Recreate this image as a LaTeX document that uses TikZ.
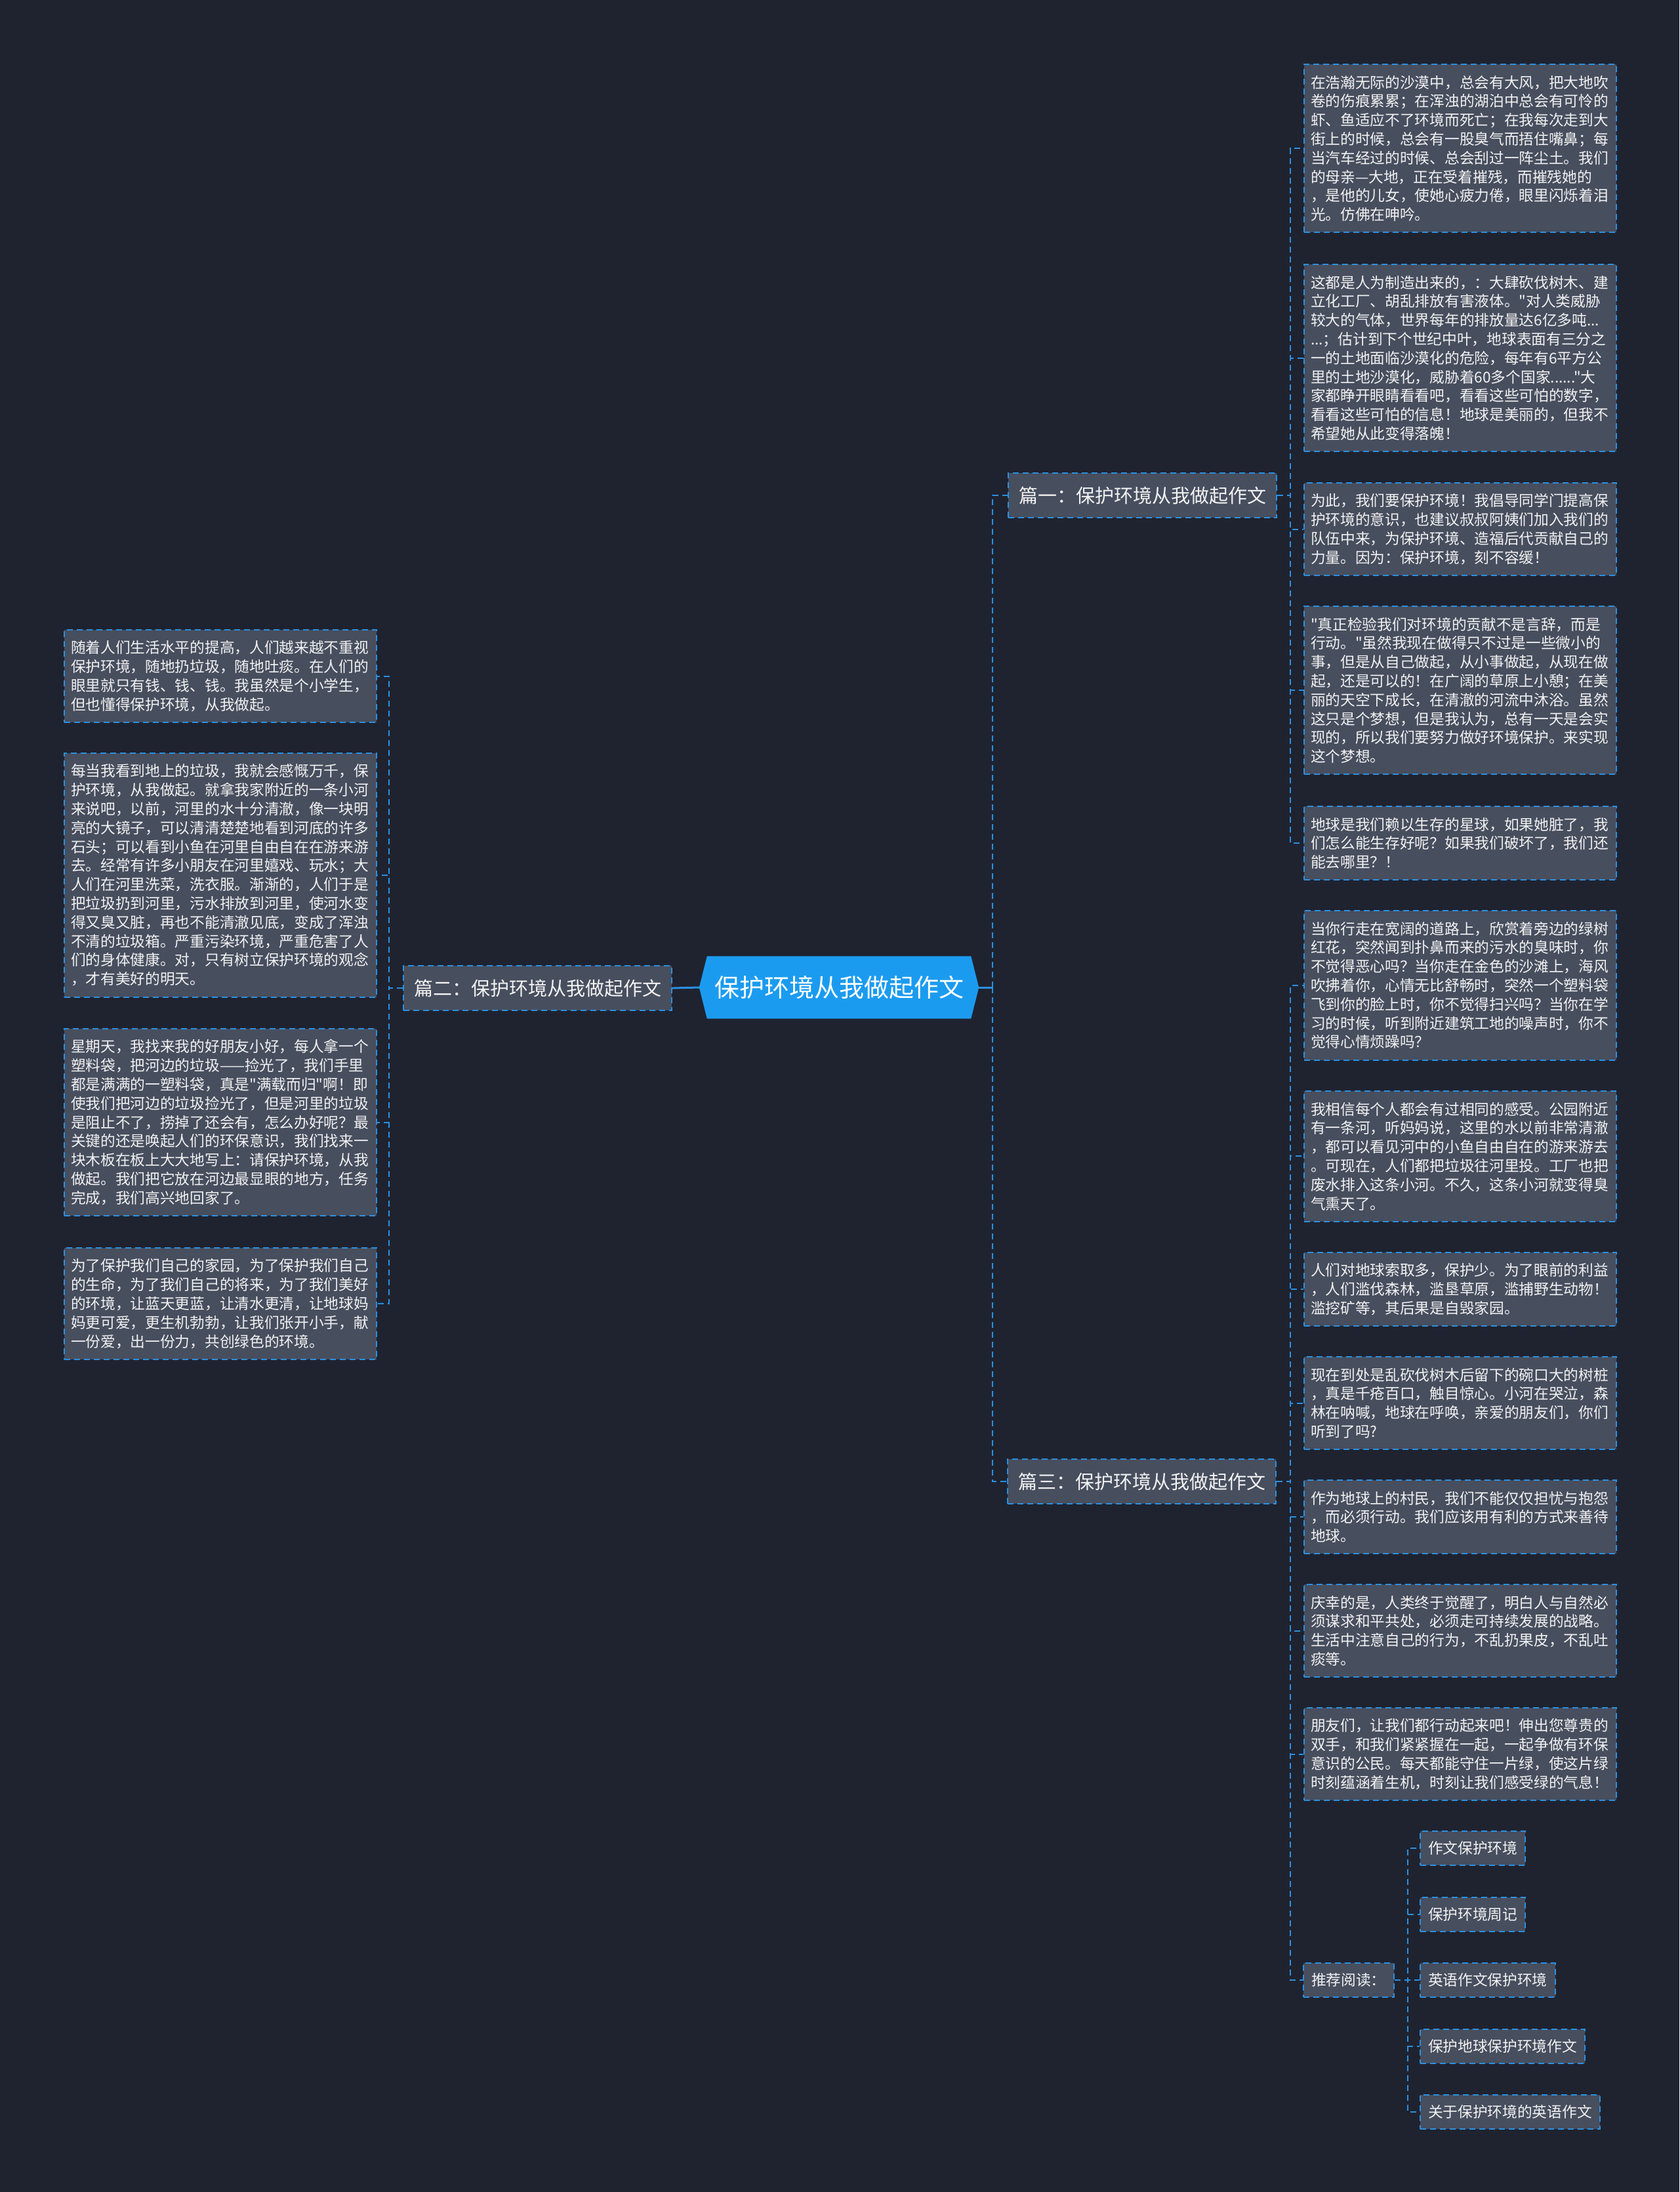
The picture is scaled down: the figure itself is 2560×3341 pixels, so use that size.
\documentclass[tikz,border=0pt]{standalone}
\usepackage{fontspec}
\newfontfamily\cjk{Noto Sans CJK SC}
\usetikzlibrary{backgrounds}
\definecolor{bg}{HTML}{1F2330}
\definecolor{boxf}{HTML}{474E5E}
\definecolor{lnc}{HTML}{2B90E0}
\definecolor{ctr}{HTML}{1B9BF0}
\definecolor{txtc}{HTML}{F2F2F2}
\begin{document}
\begin{tikzpicture}[x=1pt,y=-1pt,
  leaf/.style={draw=lnc, line width=2pt, dash pattern=on 9pt off 6pt, fill=boxf, text=txtc,
    font=\cjk\fontsize{22.7}{28.8}\selectfont, text width=456pt, align=left,
    inner xsep=10pt, inner ysep=0pt, anchor=north west},
  recbox/.style={draw=lnc, line width=2pt, dash pattern=on 9pt off 6pt, fill=boxf, text=txtc,
    font=\cjk\fontsize{22.7}{28.8}\selectfont, inner xsep=12pt, inner ysep=0pt,
    minimum height=52pt, anchor=north west},
  branch/.style={draw=lnc, line width=2pt, dash pattern=on 9pt off 6pt, fill=boxf, text=txtc,
    font=\cjk\fontsize{29}{34}\selectfont, inner xsep=16pt, inner ysep=0pt,
    minimum height=68pt, anchor=north west},
  link/.style={draw=lnc, line width=2pt, dash pattern=on 9pt off 6pt},
  mainlink/.style={draw=lnc, line width=3pt},
]
\begin{pgfonlayer}{background}
\fill[bg] (0,0) rectangle (2560,3341);
\end{pgfonlayer}
\useasboundingbox (0,0) rectangle (2560,3341);

% centre
\node[text=white, font=\cjk\fontsize{38}{44}\selectfont, minimum width=426pt, minimum height=95pt, inner sep=0pt] (c) at (1279,1505) {保护环境从我做起作文};
\begin{pgfonlayer}{background}
\fill[ctr] ([xshift=12pt]c.north west) -- ([xshift=-12pt]c.north east) -- (c.east) -- ([xshift=-12pt]c.south east) -- ([xshift=12pt]c.south west) -- (c.west) -- cycle;
\end{pgfonlayer}

% branches
\node[branch] (p1) at (1536,720) {篇一：保护环境从我做起作文};
\node[branch] (p2) at (614,1471) {篇二：保护环境从我做起作文};
\node[branch] (p3) at (1535,2223) {篇三：保护环境从我做起作文};

% right leaves, branch 1
\node[leaf, minimum height=256.4pt] (r1) at (1987,97) {在浩瀚无际的沙漠中，总会有大风，把大地吹\\卷的伤痕累累；在浑浊的湖泊中总会有可怜的\\虾、鱼适应不了环境而死亡；在我每次走到大\\街上的时候，总会有一股臭气而捂住嘴鼻；每\\当汽车经过的时候、总会刮过一阵尘土。我们\\的母亲—大地，正在受着摧残，而摧残她的\\，是他的儿女，使她心疲力倦，眼里闪烁着泪\\光。仿佛在呻吟。};
\node[leaf, minimum height=285.2pt] (r2) at (1987,402) {这都是人为制造出来的，：大肆砍伐树木、建\\立化工厂、胡乱排放有害液体。"对人类威胁\\较大的气体，世界每年的排放量达6亿多吨...\\...；估计到下个世纪中叶，地球表面有三分之\\一的土地面临沙漠化的危险，每年有6平方公\\里的土地沙漠化，威胁着60多个国家......"大\\家都睁开眼睛看看吧，看看这些可怕的数字，\\看看这些可怕的信息！地球是美丽的，但我不\\希望她从此变得落魄！};
\node[leaf, minimum height=141.2pt] (r3) at (1987,735) {为此，我们要保护环境！我倡导同学门提高保\\护环境的意识，也建议叔叔阿姨们加入我们的\\队伍中来，为保护环境、造福后代贡献自己的\\力量。因为：保护环境，刻不容缓！};
\node[leaf, minimum height=256.4pt] (r4) at (1987,923) {"真正检验我们对环境的贡献不是言辞，而是\\行动。"虽然我现在做得只不过是一些微小的\\事，但是从自己做起，从小事做起，从现在做\\起，还是可以的！在广阔的草原上小憩；在美\\丽的天空下成长，在清澈的河流中沐浴。虽然\\这只是个梦想，但是我认为，总有一天是会实\\现的，所以我们要努力做好环境保护。来实现\\这个梦想。};
\node[leaf, minimum height=112.4pt] (r5) at (1987,1228) {地球是我们赖以生存的星球，如果她脏了，我\\们怎么能生存好呢？如果我们破坏了，我们还\\能去哪里？！};

% right leaves, branch 3
\node[leaf, minimum height=227.6pt] (r6) at (1987,1387) {当你行走在宽阔的道路上，欣赏着旁边的绿树\\红花，突然闻到扑鼻而来的污水的臭味时，你\\不觉得恶心吗？当你走在金色的沙滩上，海风\\吹拂着你，心情无比舒畅时，突然一个塑料袋\\飞到你的脸上时，你不觉得扫兴吗？当你在学\\习的时候，听到附近建筑工地的噪声时，你不\\觉得心情烦躁吗？};
\node[leaf, minimum height=198.8pt] (r7) at (1987,1662) {我相信每个人都会有过相同的感受。公园附近\\有一条河，听妈妈说，这里的水以前非常清澈\\，都可以看见河中的小鱼自由自在的游来游去\\。可现在，人们都把垃圾往河里投。工厂也把\\废水排入这条小河。不久，这条小河就变得臭\\气熏天了。};
\node[leaf, minimum height=112.4pt] (r8) at (1987,1908) {人们对地球索取多，保护少。为了眼前的利益\\，人们滥伐森林，滥垦草原，滥捕野生动物！\\滥挖矿等，其后果是自毁家园。};
\node[leaf, minimum height=141.2pt] (r9) at (1987,2067) {现在到处是乱砍伐树木后留下的碗口大的树桩\\，真是千疮百口，触目惊心。小河在哭泣，森\\林在呐喊，地球在呼唤，亲爱的朋友们，你们\\听到了吗?};
\node[leaf, minimum height=112.4pt] (r10) at (1987,2255) {作为地球上的村民，我们不能仅仅担忧与抱怨\\，而必须行动。我们应该用有利的方式来善待\\地球。};
\node[leaf, minimum height=141.2pt] (r11) at (1987,2414) {庆幸的是，人类终于觉醒了，明白人与自然必\\须谋求和平共处，必须走可持续发展的战略。\\生活中注意自己的行为，不乱扔果皮，不乱吐\\痰等。};
\node[leaf, minimum height=141.2pt] (r12) at (1987,2602) {朋友们，让我们都行动起来吧！伸出您尊贵的\\双手，和我们紧紧握在一起，一起争做有环保\\意识的公民。每天都能守住一片绿，使这片绿\\时刻蕴涵着生机，时刻让我们感受绿的气息！};

% recommended reading
\node[recbox] (rec) at (1986,2991) {推荐阅读：};
\node[recbox] (s1) at (2164,2790) {作文保护环境};
\node[recbox] (s2) at (2164,2891) {保护环境周记};
\node[recbox] (s3) at (2164,2991) {英语作文保护环境};
\node[recbox] (s4) at (2164,3092) {保护地球保护环境作文};
\node[recbox] (s5) at (2164,3192) {关于保护环境的英语作文};

% left leaves
\node[leaf, minimum height=141.2pt] (l1) at (97,959) {随着人们生活水平的提高，人们越来越不重视\\保护环境，随地扔垃圾，随地吐痰。在人们的\\眼里就只有钱、钱、钱。我虽然是个小学生，\\但也懂得保护环境，从我做起。};
\node[leaf, minimum height=371.6pt] (l2) at (97,1147) {每当我看到地上的垃圾，我就会感慨万千，保\\护环境，从我做起。就拿我家附近的一条小河\\来说吧，以前，河里的水十分清澈，像一块明\\亮的大镜子，可以清清楚楚地看到河底的许多\\石头；可以看到小鱼在河里自由自在在游来游\\去。经常有许多小朋友在河里嬉戏、玩水；大\\人们在河里洗菜，洗衣服。渐渐的，人们于是\\把垃圾扔到河里，污水排放到河里，使河水变\\得又臭又脏，再也不能清澈见底，变成了浑浊\\不清的垃圾箱。严重污染环境，严重危害了人\\们的身体健康。对，只有树立保护环境的观念\\，才有美好的明天。};
\node[leaf, minimum height=285.2pt] (l3) at (97,1567) {星期天，我找来我的好朋友小好，每人拿一个\\塑料袋，把河边的垃圾——捡光了，我们手里\\都是满满的一塑料袋，真是"满载而归"啊！即\\使我们把河边的垃圾捡光了，但是河里的垃圾\\是阻止不了，捞掉了还会有，怎么办好呢？最\\关键的还是唤起人们的环保意识，我们找来一\\块木板在板上大大地写上：请保护环境，从我\\做起。我们把它放在河边最显眼的地方，任务\\完成，我们高兴地回家了。};
\node[leaf, minimum height=170pt] (l4) at (97,1901) {为了保护我们自己的家园，为了保护我们自己\\的生命，为了我们自己的将来，为了我们美好\\的环境，让蓝天更蓝，让清水更清，让地球妈\\妈更可爱，更生机勃勃，让我们张开小手，献\\一份爱，出一份力，共创绿色的环境。};

% connectors
\draw[mainlink] (c.west) -- (p2.east);
\draw[mainlink] (c.east) -- ++(21,0) coordinate (cr);
\draw[link] (cr) |- (p1.west);
\draw[link] (cr) |- (p3.west);
\foreach \k in {r1,r2,r3,r4,r5} \draw[link] (p1.east) -- ++(20,0) |- (\k.west);
\foreach \k in {r6,r7,r8,r9,r10,r11,r12,rec} \draw[link] (p3.east) -- ++(21,0) |- (\k.west);
\foreach \k in {s1,s2,s3,s4,s5} \draw[link] (rec.east) -- ++(20,0) |- (\k.west);
\foreach \k in {l1,l2,l3,l4} \draw[link] (p2.west) -- ++(-21,0) |- (\k.east);
\end{tikzpicture}
\end{document}
